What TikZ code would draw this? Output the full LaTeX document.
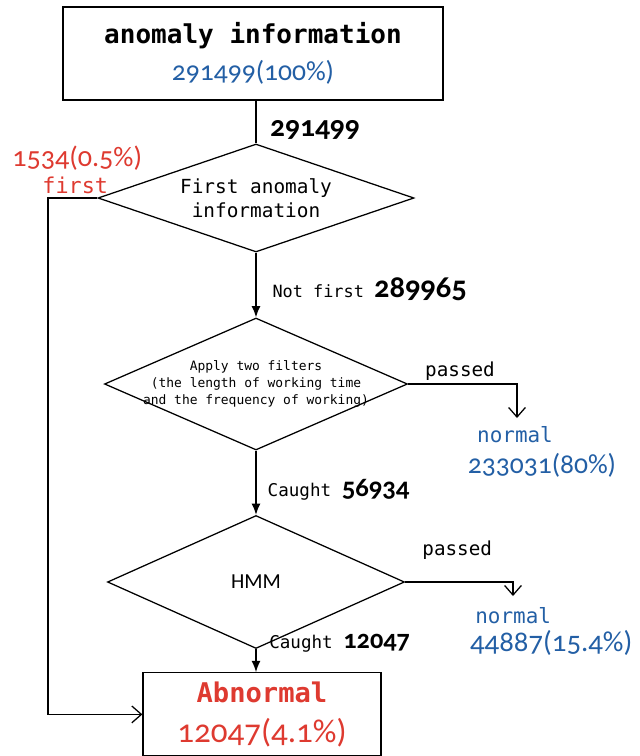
\documentclass[tikz,border=0pt]{standalone}
\usepackage{fontspec}
\setmainfont{DejaVu Sans Mono}
\newfontfamily\numfont[Numbers=OldStyle]{Carlito}
\usetikzlibrary{shapes.geometric,arrows.meta}
\definecolor{numblue}{RGB}{35,95,165}
\definecolor{numred}{RGB}{222,58,48}

\begin{document}
\begin{tikzpicture}[line width=0.9pt,
  box/.style={draw, rectangle, align=center, inner sep=0pt},
  test/.style={draw, diamond, inner sep=0pt},
  flow/.style={-{Latex[length=2.8mm,width=2.2mm]}},
  side/.style={-{Straight Barb[length=2.4mm,width=4.2mm]}}]
  \useasboundingbox (0,0) rectangle (16,-18.9);

  % boxes
  \node[box, minimum width=9.5cm, minimum height=2.325cm, font=\fontsize{18.5}{26}\selectfont] (info) at (6.325,-1.34)
    {{\bfseries anomaly information}\\{\numfont\fontsize{19.6}{26}\selectfont\color{numblue}291499(100\%)}};
  \node[box, minimum width=5.95cm, minimum height=2.08cm, font=\fontsize{19.3}{28}\selectfont] (abn) at (6.55,-17.86)
    {{\bfseries\color{numred}Abnormal}\\{\numfont\fontsize{23.5}{28}\selectfont\color{numred}12047(4.1\%)}};

  % decisions
  \node[test, minimum width=7.9cm, minimum height=2.7cm] (first) at (6.4,-4.95) {};
  \node[align=center, font=\fontsize{13.8}{17}\selectfont] (firsttxt) at (first) {First anomaly\\information};
  \node[test, minimum width=7.575cm, minimum height=3.3cm] (filter) at (6.4,-9.6) {};
  \node[align=center, font=\fontsize{9.2}{12.4}\selectfont] (filtertxt) at (filter) {Apply two filters\\(the length of working time\\and the frequency of working)};
  \node[test, minimum width=7.425cm, minimum height=3.325cm] (hmm) at (6.4,-14.55) {};
  \node[font=\numfont\fontsize{15.2}{18}\selectfont] (hmmtxt) at (hmm) {HMM};

  \coordinate (lc) at (1.2,-4.95);
  \coordinate (pass1) at (12.925,-10.45);
  \coordinate (pass2) at (12.825,-14.9);

  % connectors
  \draw (info.south -| first.north) -- (first.north);
  \draw[flow] (first.south) -- (filter.north);
  \draw[flow] (filter.south) -- (hmm.north);
  \draw[flow] (hmm.south) -- (hmm.south |- abn.north);
  \draw[side] (first.west) -- (lc) |- (abn.west);
  \draw[side] (filter.east) -| (pass1);
  \draw[side] (hmm.east) -| (pass2);

  % labels
  \node[anchor=west, font=\numfont\bfseries\fontsize{21}{24}\selectfont] (cnt0) at (6.62,-3.25) {291499};
  \node[text=numred, font=\numfont\fontsize{20}{24}\selectfont] (cntfirst) at (1.93,-3.95) {1534(0.5\%)};
  \node[text=numred, font=\fontsize{15.5}{18}\selectfont] (lblfirst) at (1.88,-4.63) {first};
  \node[anchor=west, font=\fontsize{12}{14}\selectfont] (cnt1) at (6.68,-7.22)
    {Not first {\numfont\bfseries\fontsize{21.7}{24}\selectfont 289965}};
  \node[font=\fontsize{13.7}{16}\selectfont] (pass1lbl) at (11.5,-9.27) {passed};
  \node[text=numblue, font=\fontsize{14.9}{18}\selectfont] (norm1) at (12.875,-10.87) {normal};
  \node[text=numblue, font=\numfont\fontsize{19.6}{24}\selectfont] (norm1cnt) at (13.55,-11.63) {233031(80\%)};
  \node[anchor=west, font=\fontsize{12.5}{14}\selectfont] (cnt2) at (6.56,-12.25)
    {Caught {\numfont\bfseries\fontsize{19}{24}\selectfont 56934}};
  \node[font=\fontsize{13.7}{16}\selectfont] (pass2lbl) at (11.43,-13.75) {passed};
  \node[text=numblue, font=\fontsize{14.9}{18}\selectfont] (norm2) at (12.83,-15.38) {normal};
  \node[text=numblue, font=\numfont\fontsize{20.5}{24}\selectfont] (norm2cnt) at (13.78,-16.08) {44887(15.4\%)};
  \node[anchor=west, font=\fontsize{12.5}{14}\selectfont] (cnt3) at (6.6,-16.07)
    {Caught {\numfont\bfseries\fontsize{18.7}{24}\selectfont 12047}};
\end{tikzpicture}
\end{document}
